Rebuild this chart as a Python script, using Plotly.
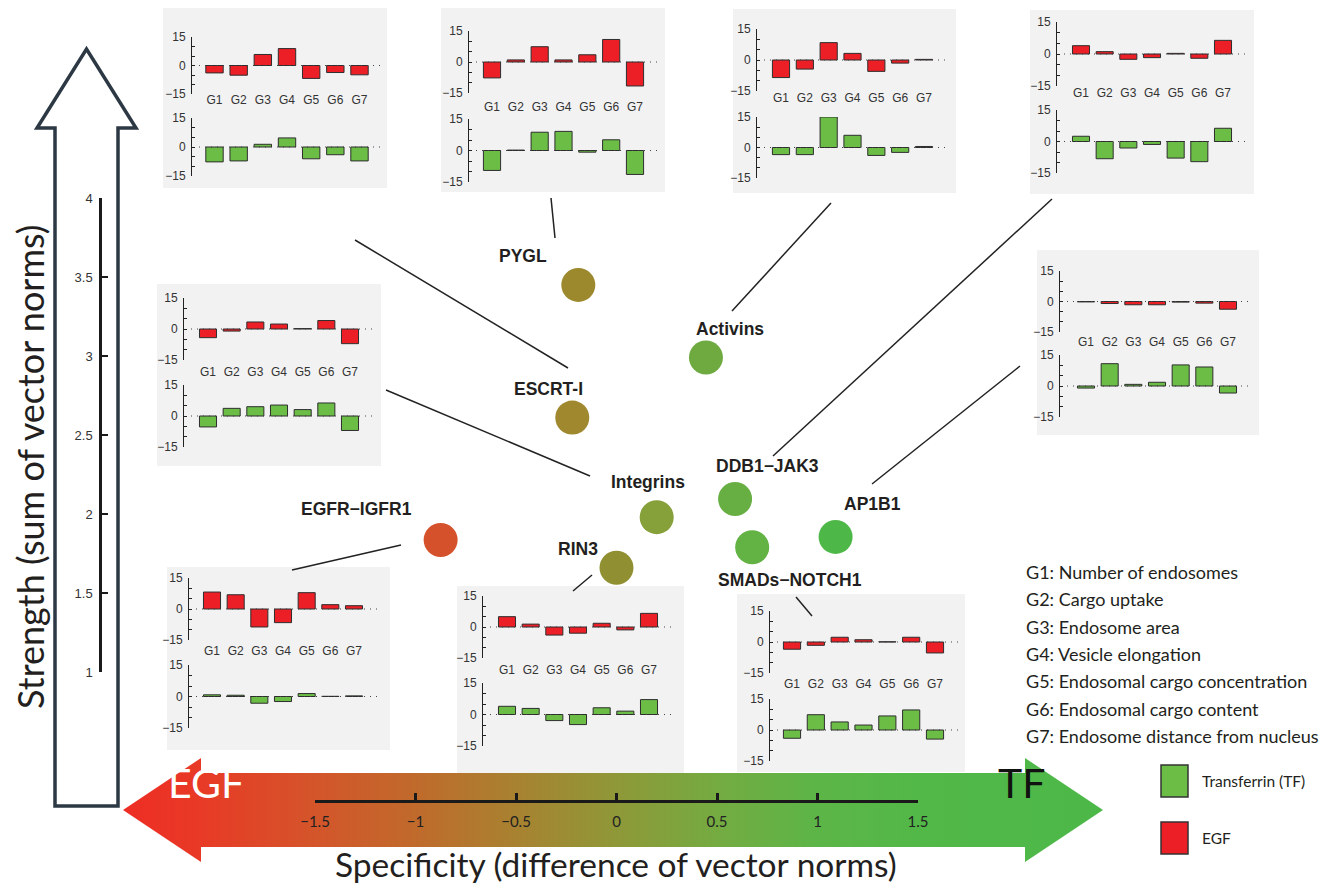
import plotly.graph_objects as go

W, H = 1329, 887

# ---------------- data ----------------
groups = ["G1", "G2", "G3", "G4", "G5", "G6", "G7"]
complexes = ["PYGL", "Activins", "ESCRT-I", "DDB1−JAK3", "Integrins", "AP1B1",
             "EGFR−IGFR1", "SMADs−NOTCH1", "RIN3"]
specificity = [-0.19, 0.445, -0.22, 0.59, 0.20, 1.09, -0.875, 0.675, 0.0]
strength = [3.45, 2.99, 2.61, 2.095, 1.98, 1.855, 1.835, 1.79, 1.66]

# inset profiles (EGF / Transferrin), one per inset panel
inset_names = ["ESCRT-I", "PYGL", "Activins", "DDB1−JAK3", "Integrins",
               "AP1B1", "EGFR−IGFR1", "RIN3", "SMADs−NOTCH1"]
egf_values = [
    [-3.9, -5.1, 5.8, 8.9, -6.8, -3.7, -4.9],
    [-7.7, 1.0, 7.4, 1.0, 3.5, 10.9, -11.6],
    [-8.5, -4.4, 8.4, 3.2, -5.5, -1.5, 0.3],
    [3.9, 1.1, -2.5, -1.7, 0.3, -2.0, 6.4],
    [-4.2, -1.0, 3.4, 2.4, 0.2, 4.1, -7.1],
    [-0.2, -1.0, -1.6, -1.6, -0.3, -0.8, -3.8],
    [8.2, 6.9, -8.7, -6.6, 7.9, 2.1, 1.6],
    [5.0, 1.4, -3.9, -3.0, 1.8, -1.4, 6.6],
    [-3.5, -1.6, 2.3, 1.1, 0.1, 2.3, -5.3],
]
tf_values = [
    [-7.7, -7.2, 1.4, 4.7, -6.1, -4.0, -7.2],
    [-9.5, 0.2, 8.7, 9.1, -0.8, 5.1, -11.4],
    [-3.5, -3.5, 15.0, 6.0, -3.9, -2.4, 0.5],
    [2.5, -8.2, -3.1, -1.4, -7.9, -9.6, 6.3],
    [-5.3, 3.7, 4.5, 5.3, 3.1, 6.3, -7.0],
    [-1.0, 10.8, 0.8, 1.8, 10.2, 9.2, -3.4],
    [0.8, 0.6, -3.2, -2.4, 1.4, 0.1, 0.3],
    [3.9, 2.9, -2.9, -4.8, 3.2, 1.6, 7.1],
    [-4.0, 7.4, 3.9, 2.4, 6.8, 9.7, -4.4],
]
legend_lines = ["G1: Number of endosomes", "G2: Cargo uptake", "G3: Endosome area",
                "G4: Vesicle elongation", "G5: Endosomal cargo concentration",
                "G6: Endosomal cargo content", "G7: Endosome distance from nucleus"]
x_ticks = [-1.5, -1, -0.5, 0, 0.5, 1, 1.5]
y_ticks = [1, 1.5, 2, 2.5, 3, 3.5, 4]

# ---------------- layout helpers (pixels -> paper) ----------------
def px(x):
    return x / W

def py(y):
    return 1 - y / H

# label offsets (pixels) for point labels
label_offsets = [(-55, 29), (24, 29), (-24, 29), (32, 33), (-9, 35), (37, 33),
                 (-84, 31), (38, -33), (-39, 19)]

# inset geometry: box(x0,y0,x1,y1), axis x, G1 x, G7 x, top(15,-15), bottom(15,-15), label y
inset_geo = [
    ((163, 8, 387, 188), 192, 214.5, 359.5, (37, 94), (118, 176), 100),
    ((441, 8, 665, 192), 469, 492, 635, (31, 93), (119, 182), 107),
    ((733, 9, 956, 193), 757, 781, 924, (29, 91), (117, 178), 98),
    ((1030, 10, 1254, 194), 1057, 1081, 1223, (22, 86), (110, 173), 93),
    ((157, 284, 381, 466), 184, 208, 350, (298, 360), (385, 447), 372),
    ((1037, 250, 1259, 435), 1060, 1086, 1228, (271, 332), (355, 417), 342),
    ((167, 567, 390, 750), 189, 212, 354, (578, 640), (665, 728), 651),
    ((457, 586, 684, 773), 483, 507, 649, (596, 658), (683, 746), 670),
    ((737, 594, 965, 772), 770, 792, 935, (611, 673), (699, 761), 684),
]
connectors = [((355, 240), (568, 368)), ((551, 198), (555, 238)), ((831, 203), (732, 311)),
              ((1052, 199), (773, 456)), ((386, 390), (590, 476)), ((1020, 366), (872, 484)),
              ((401, 545), (292, 570)), ((592, 575), (573, 591)), ((796, 597), (812, 616))]

RED = "#ec1f26"
GREEN = "#6bbd46"
EDGE = "#2e2e2e"
TXT = "#231f20"

fig = go.Figure()
shapes = []
annotations = []
layout = {}


def note(x, y, text, font, xanchor="center", **kw):
    d = dict(x=px(x), y=py(y), xref="paper", yref="paper", text=text, showarrow=False,
             xanchor=xanchor, yanchor="middle", font=font)
    d.update(kw)
    annotations.append(d)


# ---------------- decor axis (pixel space) ----------------
layout["xaxis"] = dict(domain=[0, 1], range=[0, W], visible=False, fixedrange=True)
layout["yaxis"] = dict(domain=[0, 1], range=[H, 0], visible=False, fixedrange=True)

yc = 810
ax_pts = [(123, yc), (201, yc - 52), (201, yc - 37), (1025, yc - 37), (1025, yc - 52),
          (1103, yc), (1025, yc + 52), (1025, yc + 37), (201, yc + 37), (201, yc + 52), (123, yc)]
fig.add_trace(go.Scatter(
    x=[p[0] for p in ax_pts], y=[p[1] for p in ax_pts], mode="lines",
    fill="toself", line=dict(width=0, color="rgba(0,0,0,0)"),
    fillgradient=dict(type="horizontal", colorscale=[
        [0, "#ee2d24"], [0.079, "#e83a26"], [0.196, "#d4552a"], [0.298, "#c06a2c"],
        [0.401, "#a88230"], [0.503, "#8f9838"], [0.606, "#74ab41"], [0.709, "#5cb547"],
        [0.811, "#52b848"], [1, "#4cb848"]]),
    hoverinfo="skip", showlegend=False, xaxis="x", yaxis="y"))

# hollow vertical arrow
shapes.append(dict(type="path", xref="paper", yref="paper", layer="below",
                   path=f"M {px(55)},{py(806)} L {px(55)},{py(128)} L {px(37)},{py(128)} "
                        f"L {px(86.5)},{py(49)} L {px(136)},{py(128)} L {px(118)},{py(128)} "
                        f"L {px(118)},{py(806)} Z",
                   fillcolor="white", line=dict(color="#2c3843", width=3.5)))

# ---------------- main scatter ----------------
layout["xaxis2"] = dict(domain=[px(315), px(918)], range=[-1.5, 1.5], anchor="free",
                        position=py(801), showline=True, linecolor="#1a1a1a", linewidth=3,
                        ticks="inside", ticklen=7, tickwidth=2.5, tickcolor="#1a1a1a",
                        tickvals=x_ticks, ticktext=["−1.5", "−1", "−0.5", "0", "0.5", "1", "1.5"],
                        tickfont=dict(family="Lato", size=15, color="#222"),
                        ticklabelstandoff=6, showgrid=False, zeroline=False, fixedrange=True,
                        automargin=False)
layout["yaxis2"] = dict(domain=[py(672), py(198)], range=[1, 4], anchor="free",
                        position=px(100), showline=True, linecolor="#1a1a1a", linewidth=2.5,
                        ticks="inside", ticklen=6, tickwidth=2, tickcolor="#1a1a1a",
                        tickvals=y_ticks, ticktext=["1", "1.5", "2", "2.5", "3", "3.5", "4"],
                        tickfont=dict(family="Liberation Sans", size=13, color="#333"),
                        ticklabelstandoff=4, showgrid=False, zeroline=False, fixedrange=True,
                        automargin=False)

fig.add_trace(go.Scatter(
    x=specificity, y=strength, mode="markers", xaxis="x2", yaxis="y2",
    marker=dict(size=34, color=specificity, cmin=-1.0, cmax=1.1, line=dict(width=0),
                showscale=False,
                colorscale=[[0, "#dc4a2a"], [0.06, "#d5512b"], [0.38, "#9d892d"],
                            [0.48, "#8f9033"], [0.57, "#86a03a"], [0.69, "#6faa40"],
                            [0.8, "#62b244"], [1, "#4cb848"]]),
    cliponaxis=False, showlegend=False, hovertext=complexes, hoverinfo="text"))

for name, sx, sy, (dx, dy) in zip(complexes, specificity, strength, label_offsets):
    annotations.append(dict(x=sx, y=sy, xref="x2", yref="y2", text=f"<b>{name}</b>",
                            showarrow=False, xshift=dx, yshift=dy,
                            xanchor="center", yanchor="middle",
                            font=dict(family="Liberation Sans", size=17.5, color=TXT)))

# ---------------- insets ----------------
for i, (geo, egf, tf) in enumerate(zip(inset_geo, egf_values, tf_values)):
    (bx0, by0, bx1, by1), axx, g1, g7, (t15, tm15), (b15, bm15), laby = geo
    shapes.append(dict(type="rect", xref="paper", yref="paper", layer="below",
                       x0=px(bx0), x1=px(bx1), y0=py(by1), y1=py(by0),
                       fillcolor="#f2f2f2", line=dict(width=0)))
    sp = (g7 - g1) / 6
    right = g7 + 24
    xr = [1 + (axx - g1) / sp, 1 + (right - g1) / sp]
    dot = [1 + (axx + 7 - g1) / sp, 1 + (g7 + 23 - g1) / sp]
    nt, nb = 3 + 2 * i, 4 + 2 * i
    for n, vals, color, (y15, ym15), show_lab in [(nt, egf, RED, (t15, tm15), True),
                                                  (nb, tf, GREEN, (b15, bm15), False)]:
        xa = dict(domain=[px(axx), px(right)], range=xr, showgrid=False, zeroline=False,
                  fixedrange=True, showline=False, ticks="", automargin=False)
        if show_lab:
            xa.update(anchor="free", position=py(laby - 9), tickvals=list(range(1, 8)),
                      ticktext=groups, tickfont=dict(family="Liberation Sans", size=12, color="#333"))
        else:
            xa.update(anchor=f"y{n}", showticklabels=False)
        layout[f"xaxis{n}"] = xa
        layout[f"yaxis{n}"] = dict(domain=[py(ym15), py(y15)], range=[-15, 15], anchor=f"x{n}",
                                   showline=True, linecolor="#222", linewidth=1,
                                   ticks="inside", ticklen=3, tickcolor="#222", tickwidth=1,
                                   tickvals=[-15, -10, -5, 0, 5, 10, 15],
                                   ticktext=["−15", "", "", "0", "", "", "15"],
                                   tickfont=dict(family="Liberation Sans", size=12, color="#333"),
                                   ticklabelstandoff=3, showgrid=False, zeroline=False,
                                   fixedrange=True, automargin=False)
        fig.add_trace(go.Scatter(x=dot, y=[0, 0], mode="lines", xaxis=f"x{n}", yaxis=f"y{n}",
                                 line=dict(color="#444", width=1, dash="1px,5px"),
                                 hoverinfo="skip", showlegend=False))
        fig.add_trace(go.Bar(x=list(range(1, 8)), y=vals, width=0.72, xaxis=f"x{n}", yaxis=f"y{n}",
                             marker=dict(color=color, line=dict(color=EDGE, width=1)),
                             showlegend=False, hovertext=groups))

# connector lines
for (x0, y0), (x1, y1) in connectors:
    shapes.append(dict(type="line", xref="paper", yref="paper", x0=px(x0), y0=py(y0),
                       x1=px(x1), y1=py(y1), line=dict(color="#222", width=1.5)))

# ---------------- texts ----------------
note(30, 467, "Strength (sum of vector norms)", dict(family="Lato", size=36, color=TXT),
     textangle=-90)
note(616, 864, "Specificity (difference of vector norms)", dict(family="Lato", size=33.5, color=TXT))
note(206, 782, "EGF", dict(family="Lato", size=41, color="white"))
note(1021, 782, "TF", dict(family="Lato", size=41, color="#111"))
for k, line in enumerate(legend_lines):
    note(1024, 572 + 27.3 * k, line, dict(family="Lato", size=18, color=TXT), xanchor="left")
for (yy, col, lab) in [(765, GREEN, "Transferrin (TF)"), (822, RED, "EGF")]:
    shapes.append(dict(type="rect", xref="paper", yref="paper", x0=px(1161), x1=px(1188),
                       y0=py(yy + 32), y1=py(yy), fillcolor=col, line=dict(color="#333", width=1.5)))
    note(1200, yy + 16, lab, dict(family="Lato", size=15.5, color=TXT), xanchor="left")

fig.update_layout(width=W, height=H, margin=dict(l=0, r=0, t=0, b=0, autoexpand=False),
                  paper_bgcolor="white", plot_bgcolor="rgba(0,0,0,0)",
                  showlegend=False, shapes=shapes, annotations=annotations, **layout)

fig.write_html("out.html", config={"displayModeBar": False},
               post_script="document.body.style.margin='0';document.body.style.overflow='hidden';")
